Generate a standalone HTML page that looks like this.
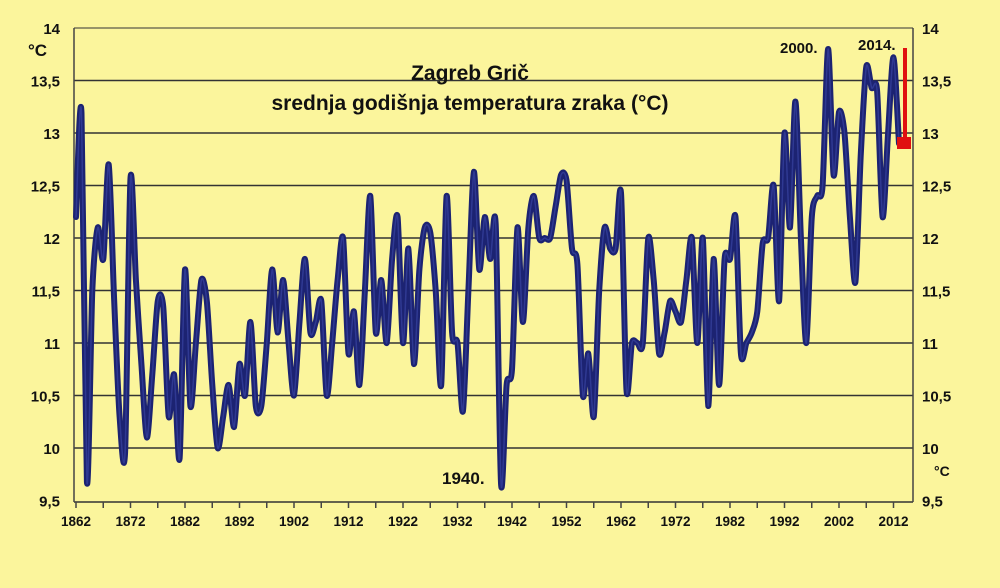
<!DOCTYPE html>
<html><head><meta charset="utf-8"><style>
html,body{margin:0;padding:0;background:#fbf59c;}
svg{display:block;}
text{font-family:"Liberation Sans",Arial,sans-serif;font-weight:bold;fill:#111;}
</style></head><body>
<svg id="s" width="1000" height="588" viewBox="0 0 1000 588" xmlns="http://www.w3.org/2000/svg">
<rect width="1000" height="588" fill="#fbf59c"/>
<g id="grid" stroke="#333" stroke-width="1.6"></g>
<line x1="74" y1="28" x2="74" y2="502" stroke="#444" stroke-width="1.5"/>
<line x1="913" y1="28" x2="913" y2="502" stroke="#444" stroke-width="1.5"/>
<g id="ticks" stroke="#444" stroke-width="1.5"></g>
<g id="labels" font-size="15"></g>
<text x="28" y="56" font-size="17">°C</text>
<text x="934" y="476" font-size="14">°C</text>
<text x="470" y="80" font-size="21" text-anchor="middle">Zagreb  Grič</text>
<text x="470" y="110" font-size="21" text-anchor="middle">srednja  godišnja  temperatura  zraka (°C)</text>
<text x="442" y="484" font-size="17">1940.</text>
<text x="780" y="53" font-size="15">2000.</text>
<text x="858" y="50" font-size="15">2014.</text>
<path id="line" fill="none" stroke="#1c2372" stroke-width="6" stroke-linejoin="round" stroke-linecap="round"/>
<path id="line2" fill="none" stroke="#3c47a8" stroke-width="1.5" stroke-linejoin="round" stroke-linecap="round" opacity="0.6"/>
<line x1="905" y1="48" x2="905" y2="143" stroke="#e01010" stroke-width="4"/>
<rect x="897" y="137" width="14" height="12" fill="#e01010"/>
</svg>
<script>
var NS="http://www.w3.org/2000/svg";
function el(p,t,a,txt){var e=document.createElementNS(NS,t);for(var k in a)e.setAttribute(k,a[k]);if(txt)e.textContent=txt;document.getElementById(p).appendChild(e);}
function Y(v){return 28+(14-v)*105;}
function X(yr){return 76+(yr-1862)*5.45;}
var vals=[14,13.5,13,12.5,12,11.5,11,10.5,10,9.5];
vals.forEach(function(v){
 var y=Y(v);
 if(v>9.5&&v<14)el("grid","line",{x1:74,y1:y,x2:913,y2:y});
 if(v==14)el("grid","line",{x1:74,y1:y,x2:913,y2:y,"stroke-width":1});
 var s=String(v).replace(".",",");
 el("labels","text",{x:60,y:y+6,"text-anchor":"end"},s);
 el("labels","text",{x:922,y:y+6},s);
});
el("grid","line",{x1:74,y1:502,x2:913,y2:502});
for(var yr=1862;yr<=2014;yr+=5){var x=X(yr);el("ticks","line",{x1:x,y1:502,x2:x,y2:508});}
for(var yr=1862;yr<=2012;yr+=10){el("labels","text",{x:X(yr),y:526,"text-anchor":"middle","font-size":13.5},String(yr));}
var d=[[1862,12.2],[1863,13.19],[1864,9.68],[1865,11.5],[1866,12.1],[1867,11.8],[1868,12.7],[1869,11.4],[1870,10.3],[1871,9.96],[1872,12.57],[1873,11.6],[1874,10.8],[1875,10.1],[1876,10.7],[1877,11.4],[1878,11.35],[1879,10.3],[1880,10.7],[1881,9.9],[1882,11.7],[1883,10.4],[1884,11.0],[1885,11.6],[1886,11.4],[1887,10.6],[1888,10.0],[1889,10.3],[1890,10.6],[1891,10.2],[1892,10.8],[1893,10.5],[1894,11.2],[1895,10.4],[1896,10.4],[1897,11.0],[1898,11.7],[1899,11.1],[1900,11.6],[1901,11.0],[1902,10.5],[1903,11.2],[1904,11.8],[1905,11.1],[1906,11.2],[1907,11.4],[1908,10.5],[1909,11.0],[1910,11.6],[1911,12.0],[1912,10.9],[1913,11.3],[1914,10.6],[1915,11.5],[1916,12.4],[1917,11.1],[1918,11.6],[1919,11.0],[1920,11.8],[1921,12.2],[1922,11.0],[1923,11.9],[1924,10.8],[1925,11.7],[1926,12.1],[1927,12.05],[1928,11.5],[1929,10.6],[1930,12.4],[1931,11.1],[1932,11.0],[1933,10.35],[1934,11.5],[1935,12.63],[1936,11.7],[1937,12.2],[1938,11.8],[1939,12.13],[1940,9.65],[1941,10.6],[1942,10.75],[1943,12.1],[1944,11.2],[1945,12.1],[1946,12.4],[1947,12.0],[1948,12.0],[1949,12.0],[1950,12.3],[1951,12.6],[1952,12.55],[1953,11.9],[1954,11.75],[1955,10.5],[1956,10.9],[1957,10.3],[1958,11.5],[1959,12.1],[1960,11.9],[1961,11.9],[1962,12.43],[1963,10.55],[1964,11.0],[1965,11.0],[1966,11.0],[1967,12.0],[1968,11.6],[1969,10.9],[1970,11.1],[1971,11.4],[1972,11.3],[1973,11.2],[1974,11.6],[1975,12.0],[1976,11.0],[1977,12.0],[1978,10.4],[1979,11.8],[1980,10.6],[1981,11.8],[1982,11.8],[1983,12.2],[1984,10.9],[1985,11.0],[1986,11.1],[1987,11.3],[1988,11.95],[1989,12.0],[1990,12.5],[1991,11.4],[1992,13.0],[1993,12.1],[1994,13.3],[1995,12.0],[1996,11.0],[1997,12.2],[1998,12.4],[1999,12.5],[2000,13.8],[2001,12.6],[2002,13.2],[2003,13.0],[2004,12.2],[2005,11.58],[2006,12.8],[2007,13.63],[2008,13.43],[2009,13.4],[2010,12.2],[2011,13.0],[2012,13.72],[2013,12.9]];
var p=d.map(function(a){return [X(a[0]),Y(a[1])];});
var s="M"+p[0][0].toFixed(1)+","+p[0][1].toFixed(1);
for(var i=0;i<p.length-1;i++){
 var p0=p[Math.max(0,i-1)],p1=p[i],p2=p[i+1],p3=p[Math.min(p.length-1,i+2)];
 var t=0.4/3;
 var c1=[p1[0]+(p2[0]-p0[0])*t,p1[1]+(p2[1]-p0[1])*t];
 var c2=[p2[0]-(p3[0]-p1[0])*t,p2[1]-(p3[1]-p1[1])*t];
 s+=" C"+c1[0].toFixed(1)+","+c1[1].toFixed(1)+" "+c2[0].toFixed(1)+","+c2[1].toFixed(1)+" "+p2[0].toFixed(1)+","+p2[1].toFixed(1);
}
document.getElementById("line").setAttribute("d",s);
document.getElementById("line2").setAttribute("d",s);
</script>
</body></html>
